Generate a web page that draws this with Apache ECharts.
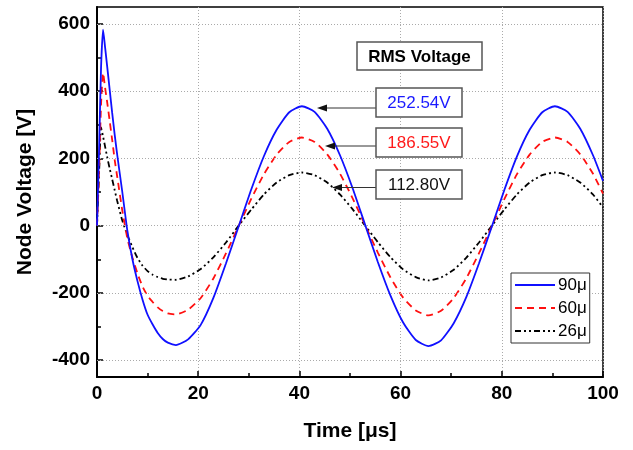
<!DOCTYPE html>
<html>
<head>
<meta charset="utf-8">
<script src="https://cdn.jsdelivr.net/npm/echarts@6/dist/echarts.min.js"></script>
<style>
html,body{margin:0;padding:0;background:#fff;}
#c{width:633px;height:450px;}
</style>
</head>
<body>
<div id="c"></div>
<script>
// ---- data ----
const time = [0,0.4,0.8,1.2,1.6,2.0,2.5,3.0,3.5,4.0,5.0,6.0,7.0,8.0,9.0,10.0,11.0,12.0,13.0,14.0,15.6,
  18,20.5,23,25.5,28,30.5,33,35.5,38,40.5,43,45.5,48,50.5,53,55.5,58,60.5,63,65.5,68,70.5,73,75.5,78,80.5,83,85.5,88,90.5,93,95.5,98,100];
const v90 = [0,220,470,583,530,475,405,335,270,210,100,-15,-100,-165,-220,-265,-294,-319,-337,-348,-355,
  -338,-295,-215,-112,-2,108,207,285,337,355,338,288,210,112,2,-108,-208,-288,-340,-358,-341,-290,-212,-112,-4,106,206,285,337,355,338,288,210,133];
const v60 = [0,160,360,454,410,368,312,255,195,145,45,-38,-95,-142,-181,-209,-227,-243,-254,-261,-264,
  -250,-215,-157,-82,-1,80,153,211,249,262,249,212,155,82,1,-80,-154,-214,-252,-267,-253,-215,-156,-82,-3,79,153,211,249,262,249,212,155,95];
const v26 = [0,150,292,265,235,205,170,138,105,73,15,-28,-64,-96,-119,-135,-146,-153,-158,-160,-161,
  -151,-129,-94,-50,0,48,93,128,150,158,150,128,93,49,0,-49,-94,-130,-153,-163,-154,-131,-95,-50,-1,48,93,128,150,158,150,128,93,54];
const seriesNames = ['90\u03bc','60\u03bc','26\u03bc'];
const yTicks = [-400,-200,0,200,400,600];
const yMinorTicks = [-300,-100,100,300,500];
const rmsTitle = 'RMS Voltage';
const rmsLabels = ['252.54V','186.55V','112.80V'];
const rmsColors = ['#1a1aff','#ff1a1a','#111111'];

// ---- chart ----
const FONT = 'Liberation Sans, Arial, sans-serif';
const pairs = arr => time.map((t,i)=>[t,arr[i]]);
const chart = echarts.init(document.getElementById('c'), null, {renderer:'canvas'});

function arrowGroup(x1, y, x2){
  return [
    {type:'line', shape:{x1:x1,y1:y,x2:x2+6,y2:y}, style:{stroke:'#333',lineWidth:1}, z:100},
    {type:'polygon', shape:{points:[[x2,y],[x2+10,y-3.5],[x2+10,y+3.5]]}, style:{fill:'#111'}, z:100}
  ];
}
function box(x,y,w,h,text,color,bold){
  return [
    {type:'rect', shape:{x:x,y:y,width:w,height:h}, style:{fill:'#fff',stroke:'#555',lineWidth:1.5}, z:100},
    {type:'text', x:x+w/2, y:y+h/2+1, style:{text:text, fill:color, font:(bold?'bold ':'')+'17px '+FONT, align:'center', verticalAlign:'middle'}, z:101}
  ];
}

const option = {
  animation:false,
  backgroundColor:'#fff',
  grid:{left:97, right:30, top:7, bottom:73, show:true, borderColor:'#000', borderWidth:1.5, backgroundColor:'transparent'},
  legend:{
    data:seriesNames, orient:'vertical', left:511, top:273,
    itemWidth:40, itemHeight:10, itemGap:5, padding:[3,3,3,3],
    borderColor:'#333', borderWidth:1, backgroundColor:'#fff',
    itemStyle:{opacity:0},
    textStyle:{fontFamily:FONT, fontSize:17, color:'#000', lineHeight:18, padding:[0,0,0,-2]},
    selectedMode:false, z:50
  },
  xAxis:{
    type:'value', min:0, max:100, interval:20,
    name:'Time [\u03bcs]', nameLocation:'middle', nameGap:44,
    nameTextStyle:{fontFamily:FONT, fontSize:21, fontWeight:'bold', color:'#000'},
    axisLine:{show:true, onZero:false, lineStyle:{color:'#000', width:2}},
    axisTick:{show:true, inside:true, length:6, lineStyle:{color:'#000', width:1.5}},
    minorTick:{show:true, splitNumber:2, length:4, lineStyle:{color:'#000', width:1.5}},
    axisLabel:{fontFamily:FONT, fontSize:19, fontWeight:'bold', color:'#000', margin:7},
    splitLine:{show:true, lineStyle:{color:'#aaa', type:[1,2], width:1}}
  },
  yAxis:[{
    type:'value', min:-450, max:650,
    name:'Node Voltage [V]', nameLocation:'middle', nameGap:61,
    nameTextStyle:{fontFamily:FONT, fontSize:21, fontWeight:'bold', color:'#000'},
    axisLine:{show:true, onZero:false, lineStyle:{color:'#000', width:2}},
    axisTick:{show:true, inside:true, length:6, customValues:yTicks, lineStyle:{color:'#000', width:1.5}},
    axisLabel:{fontFamily:FONT, fontSize:19, fontWeight:'bold', color:'#000', margin:7, customValues:yTicks},
    splitLine:{show:false}
  },{
    type:'value', min:-450, max:650, position:'left',
    axisLine:{show:false, onZero:false},
    axisTick:{show:true, inside:true, length:4, customValues:yMinorTicks, lineStyle:{color:'#000', width:1.5}},
    axisLabel:{show:false},
    splitLine:{show:false}
  }],
  series:[
    {type:'line', name:seriesNames[0], data:pairs(v90), showSymbol:false, symbol:'none', smooth:0.2,
      lineStyle:{color:'#1010ff', width:1.8}, itemStyle:{color:'#1010ff'}, z:5},
    {type:'line', name:seriesNames[1], data:pairs(v60), showSymbol:false, symbol:'none', smooth:0.2,
      lineStyle:{color:'#ff1010', width:1.8, type:[7,5]}, itemStyle:{color:'#ff1010'}, z:4},
    {type:'line', name:seriesNames[2], data:pairs(v26), showSymbol:false, symbol:'none', smooth:0.2,
      lineStyle:{color:'#000', width:1.8, type:[6,3,2,3,2,3]}, itemStyle:{color:'#000'}, z:3,
      markLine:{silent:true, symbol:'none', label:{show:false}, animation:false,
        lineStyle:{color:'#aaa', type:[1,2], width:1},
        data:yTicks.map(v=>({yAxis:v}))}}
  ],
  graphic:[].concat(
    box(357,42,125,28,rmsTitle,'#000',true),
    arrowGroup(376,108,317),
    arrowGroup(376,146,325),
    arrowGroup(376,187.5,332),
    box(376,88,86,29,rmsLabels[0],rmsColors[0],false),
    box(376,128,86,29,rmsLabels[1],rmsColors[1],false),
    box(376,170,86,29,rmsLabels[2],rmsColors[2],false)
  )
};
chart.setOption(option);
</script>
</body>
</html>
